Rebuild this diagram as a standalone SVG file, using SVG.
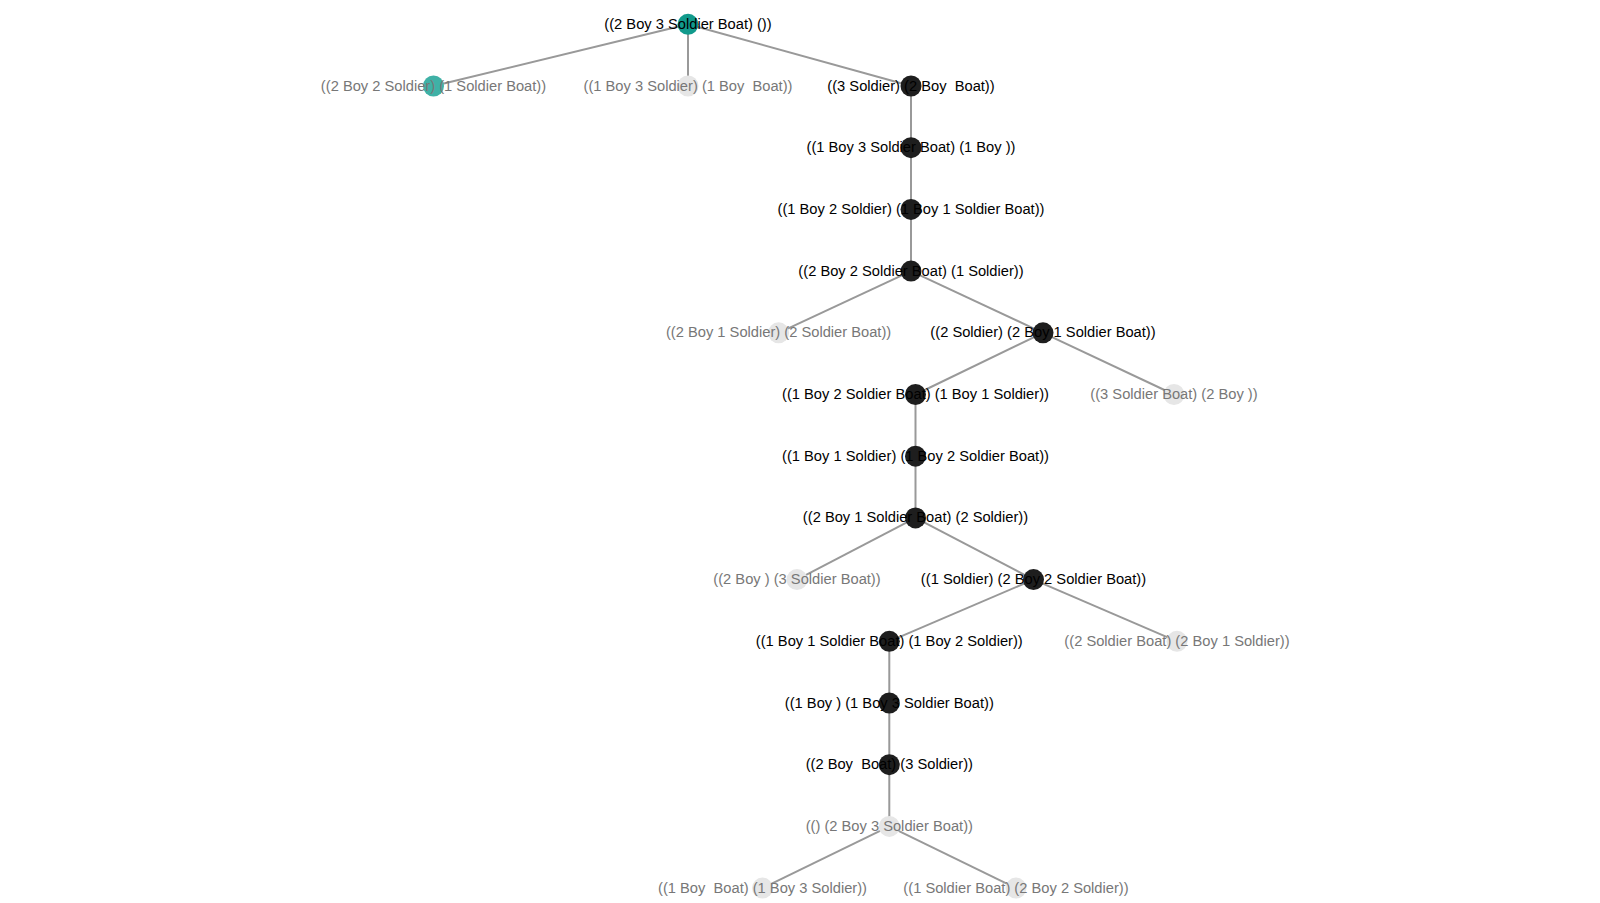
<svg xmlns="http://www.w3.org/2000/svg" width="1600" height="903" viewBox="0 0 1600 903">
<style>
.e{stroke:#999;stroke-width:2;fill:none}
.root{fill:#119a8c}
.teal{fill:#3fb1a6}
.dark{fill:#1e1e1e}
.light{fill:#e6e6e6}
text{font-family:"Liberation Sans",Arial,sans-serif;font-size:14.7px;text-anchor:middle;white-space:pre}
.t1{fill:#000}
.t2{fill:#777}
</style>
<rect width="1600" height="903" fill="#fff"/>
<g id="connectors">
<line class="e" x1="688" y1="24.3" x2="433.5" y2="86"/>
<line class="e" x1="688" y1="24.3" x2="688" y2="86"/>
<line class="e" x1="688" y1="24.3" x2="911" y2="86"/>
<line class="e" x1="911" y1="86" x2="911" y2="147.7"/>
<line class="e" x1="911" y1="147.7" x2="911" y2="209.4"/>
<line class="e" x1="911" y1="209.4" x2="911" y2="271.1"/>
<line class="e" x1="911" y1="271.1" x2="778.6" y2="332.8"/>
<line class="e" x1="911" y1="271.1" x2="1043" y2="332.8"/>
<line class="e" x1="1043" y1="332.8" x2="915.5" y2="394.5"/>
<line class="e" x1="1043" y1="332.8" x2="1174" y2="394.5"/>
<line class="e" x1="915.5" y1="394.5" x2="915.5" y2="456.2"/>
<line class="e" x1="915.5" y1="456.2" x2="915.5" y2="517.9"/>
<line class="e" x1="915.5" y1="517.9" x2="797" y2="579.6"/>
<line class="e" x1="915.5" y1="517.9" x2="1033.5" y2="579.6"/>
<line class="e" x1="1033.5" y1="579.6" x2="889.3" y2="641.3"/>
<line class="e" x1="1033.5" y1="579.6" x2="1177" y2="641.3"/>
<line class="e" x1="889.3" y1="641.3" x2="889.3" y2="703"/>
<line class="e" x1="889.3" y1="703" x2="889.3" y2="764.7"/>
<line class="e" x1="889.3" y1="764.7" x2="889.3" y2="826.4"/>
<line class="e" x1="889.3" y1="826.4" x2="762.5" y2="888.1"/>
<line class="e" x1="889.3" y1="826.4" x2="1016" y2="888.1"/>
</g>
<g id="n0"><circle class="root" cx="688" cy="24.3" r="10.5"/><text class="t1" x="688" y="28.8">((2 Boy 3 Soldier Boat) ())</text></g>
<g id="n1"><circle class="teal" cx="433.5" cy="86" r="10.5"/><text class="t2" x="433.5" y="90.5">((2 Boy 2 Soldier) (1 Soldier Boat))</text></g>
<g id="n2"><circle class="light" cx="688" cy="86" r="10.5"/><text class="t2" x="688" y="90.5">((1 Boy 3 Soldier) (1 Boy  Boat))</text></g>
<g id="n3"><circle class="dark" cx="911" cy="86" r="10.5"/><text class="t1" x="911" y="90.5">((3 Soldier) (2 Boy  Boat))</text></g>
<g id="n4"><circle class="dark" cx="911" cy="147.7" r="10.5"/><text class="t1" x="911" y="152.2">((1 Boy 3 Soldier Boat) (1 Boy ))</text></g>
<g id="n5"><circle class="dark" cx="911" cy="209.4" r="10.5"/><text class="t1" x="911" y="213.9">((1 Boy 2 Soldier) (1 Boy 1 Soldier Boat))</text></g>
<g id="n6"><circle class="dark" cx="911" cy="271.1" r="10.5"/><text class="t1" x="911" y="275.6">((2 Boy 2 Soldier Boat) (1 Soldier))</text></g>
<g id="n7"><circle class="light" cx="778.6" cy="332.8" r="10.5"/><text class="t2" x="778.6" y="337.3">((2 Boy 1 Soldier) (2 Soldier Boat))</text></g>
<g id="n8"><circle class="dark" cx="1043" cy="332.8" r="10.5"/><text class="t1" x="1043" y="337.3">((2 Soldier) (2 Boy 1 Soldier Boat))</text></g>
<g id="n9"><circle class="dark" cx="915.5" cy="394.5" r="10.5"/><text class="t1" x="915.5" y="399">((1 Boy 2 Soldier Boat) (1 Boy 1 Soldier))</text></g>
<g id="n10"><circle class="light" cx="1174" cy="394.5" r="10.5"/><text class="t2" x="1174" y="399">((3 Soldier Boat) (2 Boy ))</text></g>
<g id="n11"><circle class="dark" cx="915.5" cy="456.2" r="10.5"/><text class="t1" x="915.5" y="460.7">((1 Boy 1 Soldier) (1 Boy 2 Soldier Boat))</text></g>
<g id="n12"><circle class="dark" cx="915.5" cy="517.9" r="10.5"/><text class="t1" x="915.5" y="522.4">((2 Boy 1 Soldier Boat) (2 Soldier))</text></g>
<g id="n13"><circle class="light" cx="797" cy="579.6" r="10.5"/><text class="t2" x="797" y="584.1">((2 Boy ) (3 Soldier Boat))</text></g>
<g id="n14"><circle class="dark" cx="1033.5" cy="579.6" r="10.5"/><text class="t1" x="1033.5" y="584.1">((1 Soldier) (2 Boy 2 Soldier Boat))</text></g>
<g id="n15"><circle class="dark" cx="889.3" cy="641.3" r="10.5"/><text class="t1" x="889.3" y="645.8">((1 Boy 1 Soldier Boat) (1 Boy 2 Soldier))</text></g>
<g id="n16"><circle class="light" cx="1177" cy="641.3" r="10.5"/><text class="t2" x="1177" y="645.8">((2 Soldier Boat) (2 Boy 1 Soldier))</text></g>
<g id="n17"><circle class="dark" cx="889.3" cy="703" r="10.5"/><text class="t1" x="889.3" y="707.5">((1 Boy ) (1 Boy 3 Soldier Boat))</text></g>
<g id="n18"><circle class="dark" cx="889.3" cy="764.7" r="10.5"/><text class="t1" x="889.3" y="769.2">((2 Boy  Boat) (3 Soldier))</text></g>
<g id="n19"><circle class="light" cx="889.3" cy="826.4" r="10.5"/><text class="t2" x="889.3" y="830.9">(() (2 Boy 3 Soldier Boat))</text></g>
<g id="n20"><circle class="light" cx="762.5" cy="888.1" r="10.5"/><text class="t2" x="762.5" y="892.6">((1 Boy  Boat) (1 Boy 3 Soldier))</text></g>
<g id="n21"><circle class="light" cx="1016" cy="888.1" r="10.5"/><text class="t2" x="1016" y="892.6">((1 Soldier Boat) (2 Boy 2 Soldier))</text></g>
</svg>
